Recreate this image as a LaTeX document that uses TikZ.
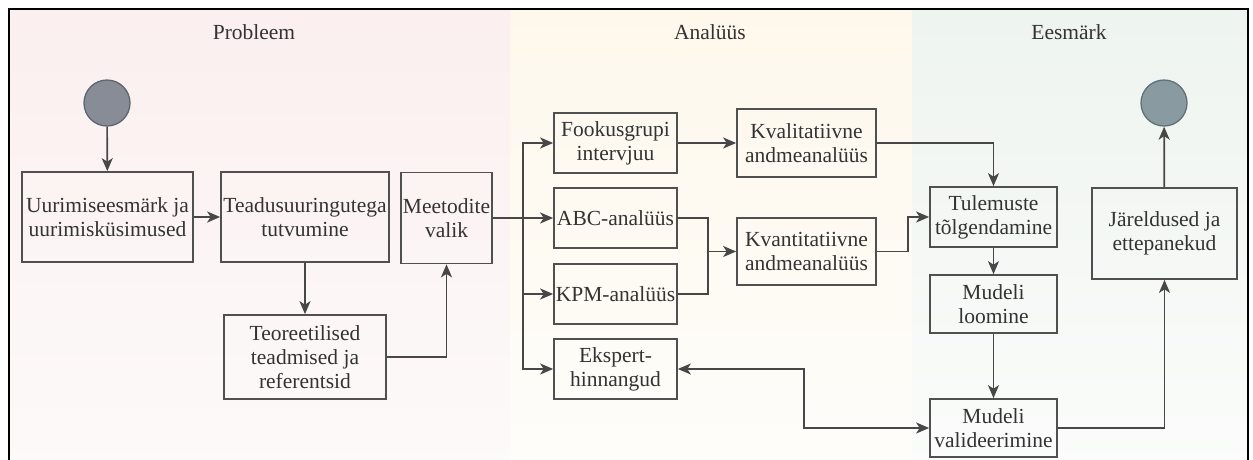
\documentclass[tikz,border=0pt]{standalone}
\usepackage{fontspec}
\setmainfont{Liberation Serif}
\newfontfamily\labelfont{Liberation Serif}
\usetikzlibrary{arrows.meta,calc}
\definecolor{lineclr}{HTML}{474747}
\definecolor{boxclr}{HTML}{505050}
\definecolor{txtclr}{HTML}{333333}
\definecolor{laneAtop}{HTML}{FBEFEF}
\definecolor{laneAbot}{HTML}{FDFAFA}
\definecolor{laneBtop}{HTML}{FEF8EC}
\definecolor{laneBbot}{HTML}{FEFDFA}
\definecolor{laneCtop}{HTML}{EEF4EF}
\definecolor{laneCbot}{HTML}{FBFCFB}
\definecolor{startfill}{HTML}{878C97}
\definecolor{startline}{HTML}{5E6470}
\definecolor{endfill}{HTML}{899AA0}
\definecolor{endline}{HTML}{5F7076}
\begin{document}
\begin{tikzpicture}[x=1pt,y=-1pt,
  box/.style={draw=boxclr, line width=1.7pt, rectangle, inner sep=0pt,
    align=center, text=txtclr, font=\labelfont\fontsize{21.5}{24}\selectfont},
  lanetitle/.style={text=txtclr, font=\labelfont\fontsize{21.5}{24}\selectfont},
  conn/.style={draw=lineclr, line width=1.7pt},
  arr/.style={conn, -{Stealth[length=13pt,width=11pt,inset=3.5pt]}},
  arrboth/.style={conn, {Stealth[length=13pt,width=11pt,inset=3.5pt]}-{Stealth[length=13pt,width=11pt,inset=3.5pt]}},
  terminal/.style={circle, minimum size=46pt, inner sep=0pt, line width=1.3pt}]
\useasboundingbox (0,0) rectangle (1253,459);
\clip (0,0) rectangle (1253,459);
\fill[white] (0,0) rectangle (1253,459);

% swimlane backgrounds
\shade[top color=laneAtop, bottom color=laneAbot] (9,9) rectangle (510,470);
\shade[top color=laneBtop, bottom color=laneBbot] (510,9) rectangle (912,470);
\shade[top color=laneCtop, bottom color=laneCbot] (912,9) rectangle (1248,470);
\draw[black, line width=2.2pt] (9,9) rectangle (1248,470);

% lane titles
\node[lanetitle] (tP) at (254,32) {Probleem};
\node[lanetitle] (tA) at (710,32) {Analüüs};
\node[lanetitle] (tE) at (1069,32) {Eesmärk};

% terminals
\node[terminal, fill=startfill, draw=startline] (start) at (107,103) {};
\node[terminal, fill=endfill, draw=endline] (end) at (1164,103) {};

% problem lane
\node[box, minimum width=171pt, minimum height=90pt] (goal) at (107.5,217) {Uurimiseesmärk ja\\uurimisküsimused};
\node[box, minimum width=168pt, minimum height=90pt] (lit) at (305,217) {Teadusuuringutega\\tutvumine};
\node[box, minimum width=91pt, minimum height=91pt] (meth) at (446.5,218) {Meetodite\\valik};
\node[box, minimum width=162pt, minimum height=84pt] (theo) at (305,357) {Teoreetilised\\teadmised ja\\referentsid};

% analysis lane
\node[box, minimum width=123pt, minimum height=60pt] (focus) at (615.5,143) {Fookusgrupi\\intervjuu};
\node[box, minimum width=123pt, minimum height=60pt] (abc) at (615.5,218) {ABC-analüüs};
\node[box, minimum width=123pt, minimum height=60pt] (kpm) at (615.5,294) {KPM-analüüs};
\node[box, minimum width=123pt, minimum height=60pt] (expert) at (615.5,369) {Ekspert-\\hinnangud};
\node[box, minimum width=139pt, minimum height=68pt] (qual) at (806.5,143) {Kvalitatiivne\\andmeanalüüs};
\node[box, minimum width=139pt, minimum height=67pt] (quant) at (806.5,251.5) {Kvantitatiivne\\andmeanalüüs};

% goal lane
\node[box, minimum width=127pt, minimum height=60pt] (interp) at (993.5,217) {Tulemuste\\tõlgendamine};
\node[box, minimum width=127pt, minimum height=58pt] (model) at (993.5,304) {Mudeli\\loomine};
\node[box, minimum width=127pt, minimum height=58pt] (valid) at (993.5,428) {Mudeli\\valideerimine};
\node[box, minimum width=145pt, minimum height=91pt] (concl) at (1164.5,233.5) {Järeldused ja\\ettepanekud};

% junction points
\coordinate (split) at (523,218);
\coordinate (merge) at (708,251.5);

% connectors
\draw[arr] (start) -- (goal);
\draw[arr] (goal) -- (lit);
\draw[arr] (lit) -- (theo);
\draw[arr] (theo.east) -| (meth.south);

\draw[conn] (meth.east) -- (split);
\draw[arr] (split) |- (focus.west);
\draw[arr] (split) -- (abc.west);
\draw[arr] (split) |- (kpm.west);
\draw[arr] (split) |- (expert.west);

\draw[arr] (focus) -- (qual);
\draw[conn] (abc.east) -| (merge);
\draw[conn] (kpm.east) -| (merge);
\draw[arr] (merge) -- (quant.west);

\draw[arr] (qual.east) -| (interp.north);
\draw[arr] (quant.east) -- ++(31,0) |- (interp.west);
\draw[arr] (interp) -- (model);
\draw[arr] (model) -- (valid);
\draw[arrboth] (expert.east) -- ++(126,0) |- (valid.west);
\draw[arr] (valid.east) -| (concl.south);
\draw[arr] (concl) -- (end);
\end{tikzpicture}
\end{document}
